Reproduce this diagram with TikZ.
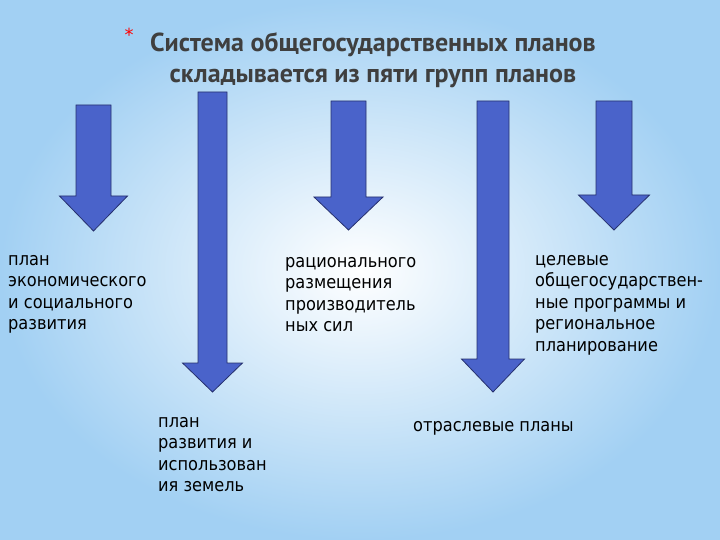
\documentclass[tikz,border=0pt]{standalone}
\definecolor{arrowBlue}{HTML}{4A63CA}
\definecolor{arrowEdge}{HTML}{26306E}
\definecolor{titleGray}{HTML}{3F3F3F}
\definecolor{bgBlue}{HTML}{A2D0F3}
\usepackage{fontspec}
\setmainfont{DejaVu Sans}
\newfontfamily\bodyfont[FakeStretch=0.9]{DejaVu Sans}
\newfontfamily\titlefont{PT Sans}
\usepackage{tikz}
\usetikzlibrary{positioning}

% cx, top, head base, tip, half shaft, half head
\newcommand{\planarrow}[6]{%
  \draw[blockarrow] (#1-#5,#2) -- (#1+#5,#2) -- (#1+#5,#3) -- (#1+#6,#3)
    -- (#1,#4) -- (#1-#6,#3) -- (#1-#5,#3) -- cycle;}

\begin{document}
\begin{tikzpicture}[
  x=1pt,y=-1pt,
  blockarrow/.style={draw=arrowEdge,fill=arrowBlue,line width=0.8pt,line join=miter},
  grp/.style={anchor=base west,align=left,inner sep=0pt,
              font=\bodyfont\fontsize{18}{21.5}\selectfont},
]
  \useasboundingbox (0,0) rectangle (720,540);
  \shade[inner color=white,outer color=bgBlue] (0,0) rectangle (720,540);

  % title (base anchor sits on the last line)
  \node[anchor=base,align=center,inner sep=0pt,text=titleGray,
        font=\titlefont\bfseries\fontsize{26}{31}\selectfont] (title) at (373,83)
    {Система общегосударственных планов\\складывается из пяти групп планов};
  \node[text=red,font=\fontsize{18}{18}\selectfont,inner sep=0pt] (star) at (129,35) {*};

  % arrows
  \planarrow{93.5}{105}{196}{231}{17.5}{34}
  \planarrow{212.5}{92}{363}{392}{14.5}{30}
  \planarrow{348.5}{101}{197}{230}{17.5}{34.5}
  \planarrow{493}{101}{359}{392}{16}{31.5}
  \planarrow{614}{101}{195}{230}{18}{35.5}

  % groups of plans (base = last line)
  \node[grp] (econ) at (8,329.5) {план\\экономического\\и социального\\развития};
  \node[grp] (land) at (158,491.5) {план\\развития и\\использован\\ия земель};
  \node[grp] (prod) at (285,331.5) {рационального\\размещения\\производитель\\ных сил};
  \node[grp] (branch) at (413,431) {отраслевые планы};
  \node[grp] (target) at (535,351) {целевые\\общегосударствен-\\ные программы и\\региональное\\планирование};
\end{tikzpicture}
\end{document}
